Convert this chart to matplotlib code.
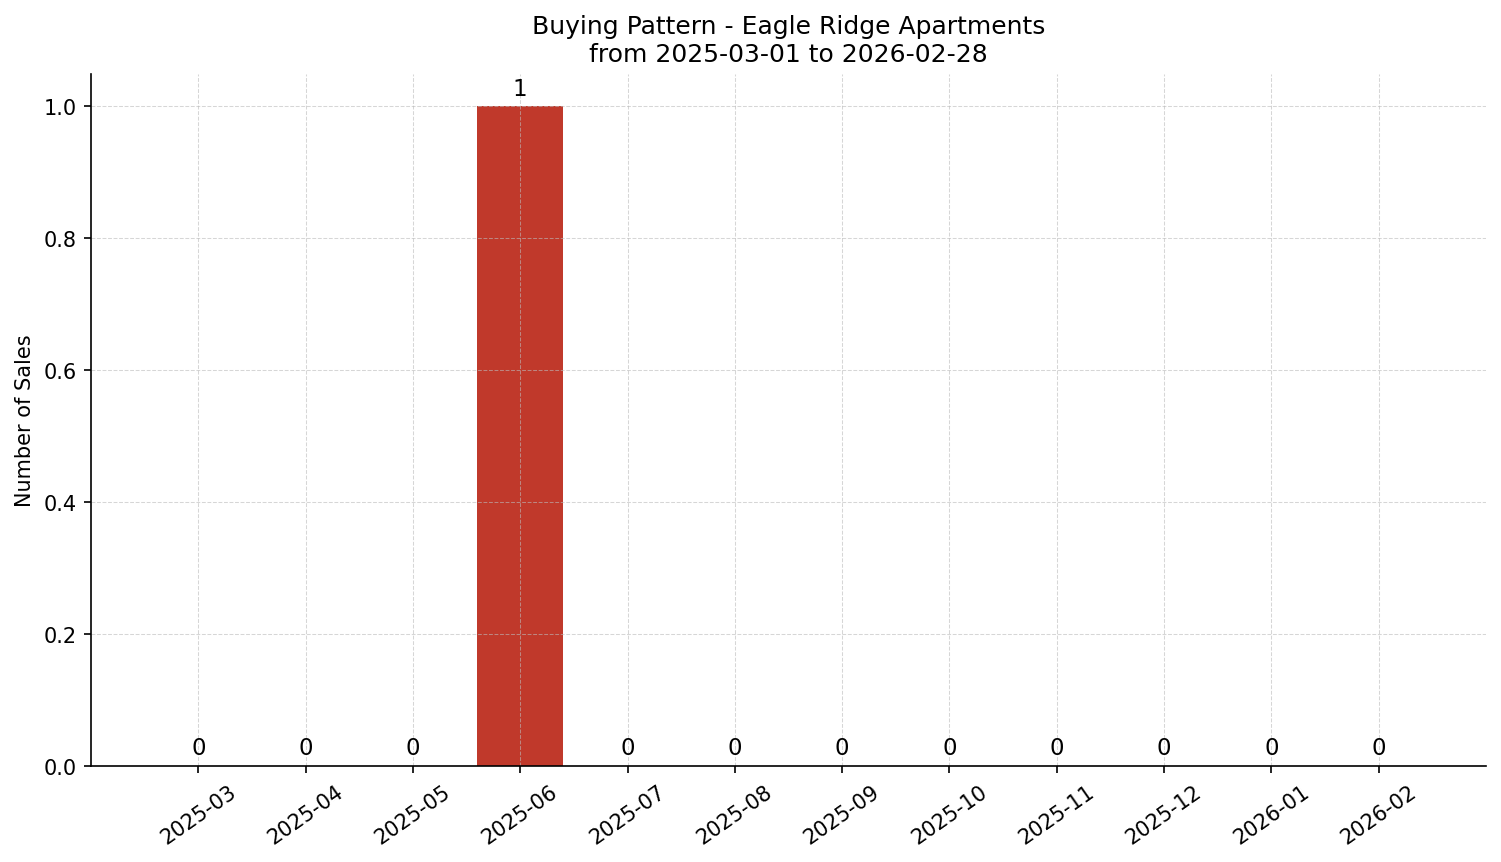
import matplotlib
matplotlib.use("Agg")
import matplotlib.pyplot as plt

months = ["2025-03", "2025-04", "2025-05", "2025-06", "2025-07", "2025-08",
          "2025-09", "2025-10", "2025-11", "2025-12", "2026-01", "2026-02"]
sales = [0, 0, 0, 1, 0, 0, 0, 0, 0, 0, 0, 0]

fig, ax = plt.subplots(figsize=(10.007, 5.753), dpi=150)
fig.subplots_adjust(left=0.0606, right=0.990, top=0.9137, bottom=0.1112)

x = list(range(len(months)))
bars = ax.bar(x, sales, width=0.8, color="#c0392b")
for xi, v in zip(x, sales):
    ax.text(xi, v + 0.01, f"{v}", ha="center", va="bottom", fontsize=11)

ax.set_xticks(x)
ax.set_xticklabels(months, rotation=35)
ax.set_xlim(-1, 12)
ax.set_ylim(0, 1.05)
ax.set_ylabel("Number of Sales", fontsize=10)
ax.set_title("Buying Pattern - Eagle Ridge Apartments\nfrom 2025-03-01 to 2026-02-28", fontsize=12)
ax.grid(True, linestyle="--", linewidth=0.5, color="#bbbbbb", alpha=0.6)
ax.spines["top"].set_visible(False)
ax.spines["right"].set_visible(False)
ax.tick_params(labelsize=10)

fig.savefig("out.png", dpi=150)
